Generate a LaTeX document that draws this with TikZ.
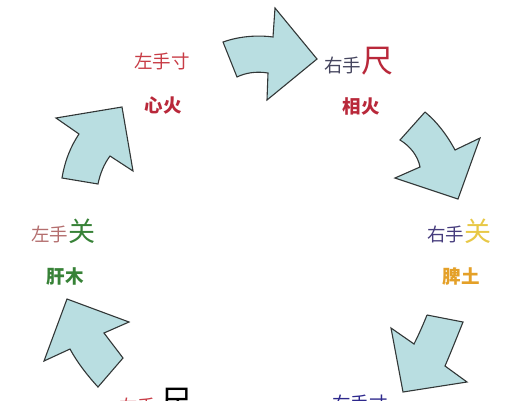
\documentclass[tikz,border=0pt]{standalone}
\usepackage{fontspec}
\setmainfont{Noto Sans CJK SC}
\definecolor{arrowfill}{RGB}{185,222,225}
\definecolor{arrowline}{RGB}{50,55,55}
\definecolor{firered}{RGB}{185,40,58}
\definecolor{lightred}{RGB}{200,60,70}
\definecolor{slate}{RGB}{70,70,95}
\definecolor{pinkbrown}{RGB}{180,110,110}
\definecolor{woodgreen}{RGB}{55,130,55}
\definecolor{purpleblue}{RGB}{70,60,125}
\definecolor{earthyellow}{RGB}{232,200,70}
\definecolor{earthorange}{RGB}{228,160,40}
\definecolor{darkblue}{RGB}{45,40,140}
\tikzset{
  blockarrow/.style={fill=arrowfill, draw=arrowline, line width=1.1pt, line join=miter},
  lbl/.style={inner sep=0pt, outer sep=0pt},
}
\newcommand{\smallsz}{\fontsize{18.5}{20}\selectfont}
\newcommand{\bigsz}{\fontsize{32}{34}\selectfont}
\newcommand{\midsz}{\fontsize{27}{29}\selectfont}
\begin{document}
\begin{tikzpicture}[x=1pt,y=-1pt]
\useasboundingbox (0,0) rectangle (524,400);
\clip (0,0) rectangle (524,400);
\fill[white] (0,0) rectangle (524,400);

% arrow top (left -> right)
\draw[blockarrow] (223,42) .. controls (240,36) and (258,35) .. (273,37)
  -- (275,8) -- (317,59) -- (267,100) -- (268,73)
  .. controls (256,71) and (245,73) .. (237,77) -- cycle;

% arrow right upper (down)
\draw[blockarrow] (425,112) -- (400,140)
  .. controls (410,146) and (418,156) .. (420,167)
  -- (395,178) -- (458,199) -- (480,138) -- (455,150)
  .. controls (447,135) and (437,122) .. (425,112);

% arrow right lower (down-left)
\draw[blockarrow] (427,315) -- (463,322)
  .. controls (457,337) and (451,352) .. (445,366)
  -- (467,382) -- (403,392) -- (391,328) -- (414,344)
  .. controls (419,334) and (423,325) .. (427,315);

% arrow left lower (up-left)
\draw[blockarrow] (67,299) -- (129,322) -- (104,333)
  .. controls (110,341) and (117,350) .. (123,358)
  -- (98,387)
  .. controls (87,375) and (77,362) .. (70,349)
  -- (44,361) -- cycle;

% arrow left upper (up-right)
\draw[blockarrow] (56,118) -- (122,107) -- (133,171) -- (110,156)
  .. controls (104,164) and (100,174) .. (98,184)
  -- (62,178)
  .. controls (65,160) and (71,146) .. (79,134)
  -- cycle;

% labels
\node[lbl, anchor=center] (lc) at (162,61) {\smallsz\color{lightred}左手寸};
\node[lbl, anchor=center] (xh) at (163,106) {\smallsz\bfseries\color{firered}心火};
\node[lbl, anchor=base west] (rc) at (324,72) {\smallsz\color{slate}右手\bigsz\color{firered}尺};
\node[lbl, anchor=center] (ph) at (361,106) {\smallsz\bfseries\color{firered}相火};
\node[lbl, anchor=base west] (lg) at (31,241) {\smallsz\color{pinkbrown}左手\midsz\color{woodgreen}关};
\node[lbl, anchor=center] (gm) at (65,276) {\smallsz\bfseries\color{woodgreen}肝木};
\node[lbl, anchor=base west] (rg) at (427,241) {\smallsz\color{purpleblue}右手\midsz\color{earthyellow}关};
\node[lbl, anchor=center] (pt) at (461,276) {\smallsz\bfseries\color{earthorange}脾土};
\node[lbl, anchor=base west] (lch) at (119,413) {\smallsz\color{lightred}左手 \bigsz\color{black}尺};
\node[lbl, anchor=base west] (rcun) at (332,410) {\smallsz\color{darkblue}右手寸};
\end{tikzpicture}
\end{document}
